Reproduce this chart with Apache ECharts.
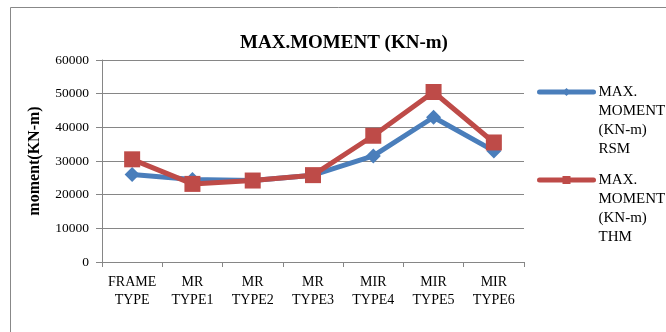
<!DOCTYPE html>
<html>
<head>
<meta charset="utf-8">
<script src="https://cdn.jsdelivr.net/npm/echarts@6/dist/echarts.min.js"></script>
<style>
html,body{margin:0;padding:0;background:#fff;}
#c{width:666px;height:332px;}
</style>
</head>
<body>
<div id="c"></div>
<script>
const categories = ['FRAME\nTYPE','MR\nTYPE1','MR\nTYPE2','MR\nTYPE3','MIR\nTYPE4','MIR\nTYPE5','MIR\nTYPE6'];
const rsmName = 'MAX.\nMOMENT\n(KN-m)\nRSM';
const thmName = 'MAX.\nMOMENT\n(KN-m)\nTHM';
const rsmValues = [26000, 24500, 24200, 25800, 31500, 43000, 33000];
const thmValues = [30500, 23200, 24200, 25800, 37500, 50500, 35500];
const yTicks = [0, 10000, 20000, 30000, 40000, 50000, 60000];

const font = '"Liberation Serif", "Times New Roman", serif';
const chart = echarts.init(document.getElementById('c'), null, {renderer: 'canvas'});
chart.setOption({
  backgroundColor: '#fff',
  animation: false,
  graphic: [{
    type: 'rect', shape: {x: 10.5, y: 7.5, width: 700, height: 340},
    style: {fill: 'none', stroke: '#888', lineWidth: 1}, silent: true, z: -10
  }],
  title: {
    text: 'MAX.MOMENT (KN-m)',
    left: 235, top: 29,
    textStyle: {fontFamily: font, fontWeight: 'bold', fontSize: 19, color: '#000'}
  },
  legend: {
    orient: 'vertical',
    left: 537, top: 25.5,
    padding: 0,
    itemWidth: 54, itemHeight: 10, itemGap: -45,
    data: [rsmName, thmName],
    formatter: name => '\n\n\n' + name,
    lineStyle: {width: 5, cap: 'round'},
    textStyle: {fontFamily: font, fontSize: 15, color: '#000', lineHeight: 19}
  },
  grid: {left: 102, right: 142, top: 60, bottom: 70, containLabel: false},
  xAxis: {
    type: 'category',
    data: categories,
    boundaryGap: true,
    axisLine: {lineStyle: {color: '#868686', width: 1}},
    axisTick: {show: true, length: 5, lineStyle: {color: '#868686'}},
    axisLabel: {fontFamily: font, fontSize: 14, color: '#000', lineHeight: 18, margin: 11, interval: 0}
  },
  yAxis: {
    type: 'value',
    min: 0, max: 60000, interval: 10000,
    name: 'moment(KN-m)',
    nameLocation: 'middle',
    nameGap: 59,
    nameTextStyle: {fontFamily: font, fontWeight: 'bold', fontSize: 16, color: '#000'},
    axisLine: {show: true, lineStyle: {color: '#868686', width: 1}},
    axisTick: {show: true, length: 6, lineStyle: {color: '#868686'}},
    splitLine: {lineStyle: {color: '#868686', width: 1}},
    axisLabel: {fontFamily: font, fontSize: 13.5, color: '#000', margin: 13,
      formatter: v => yTicks.includes(v) ? String(v) : ''}
  },
  series: [
    {
      name: rsmName, type: 'line', data: rsmValues,
      symbol: 'diamond', symbolSize: 15,
      lineStyle: {color: '#4a7ebb', width: 5},
      itemStyle: {color: '#4a7ebb'},
      z: 2
    },
    {
      name: thmName, type: 'line', data: thmValues,
      symbol: 'rect', symbolSize: 16,
      lineStyle: {color: '#be4b48', width: 5},
      itemStyle: {color: '#be4b48'},
      z: 3
    }
  ]
});
</script>
</body>
</html>
